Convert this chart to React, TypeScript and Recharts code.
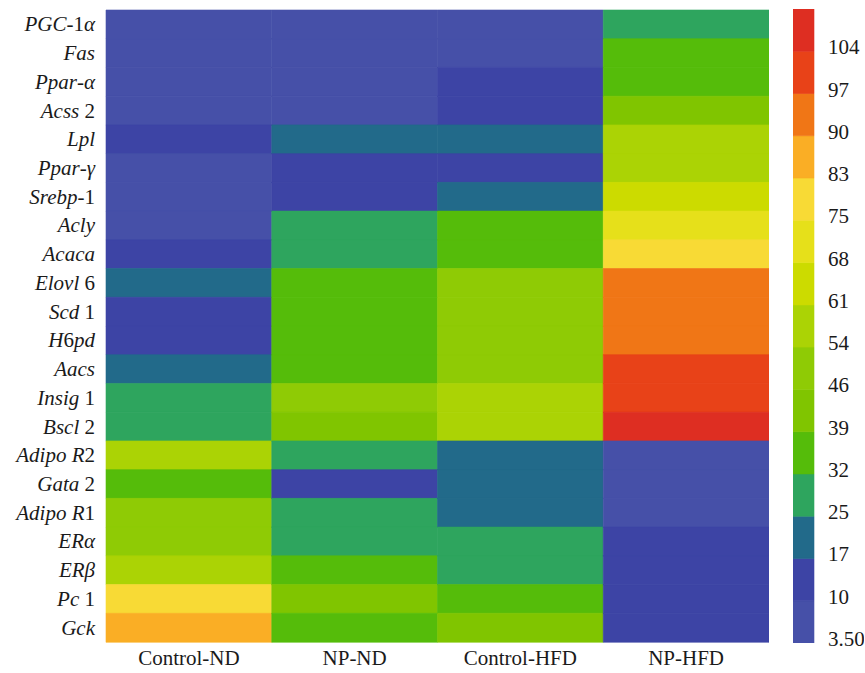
import React from 'react';
import { BarChart, Bar, Cell, XAxis, YAxis } from 'recharts';

const genes = [
  'PGC-1α', 'Fas', 'Ppar-α', 'Acss 2', 'Lpl', 'Ppar-γ', 'Srebp-1', 'Acly', 'Acaca', 'Elovl 6', 'Scd 1',
  'H6pd', 'Aacs', 'Insig 1', 'Bscl 2', 'Adipo R2', 'Gata 2', 'Adipo R1', 'ERα', 'ERβ', 'Pc 1', 'Gck',
];

const groups = ['Control-ND', 'NP-ND', 'Control-HFD', 'NP-HFD'];

const controlND = [6.8, 7.2, 6.5, 7.0, 13.9, 6.9, 7.4, 7.1, 14.6, 21.2, 13.8, 14.1, 20.7, 28.3, 28.9, 57.6, 35.2, 50.4, 49.7, 57.1, 78.6, 86.3];
const npND = [6.6, 7.0, 7.3, 6.9, 21.5, 14.2, 13.7, 28.4, 29.1, 35.6, 36.0, 35.3, 35.9, 50.2, 43.1, 28.7, 14.0, 28.2, 28.9, 35.5, 42.6, 36.2];
const controlHFD = [7.1, 6.7, 14.4, 13.9, 21.0, 14.5, 21.3, 35.7, 36.1, 50.0, 49.6, 50.5, 49.9, 57.5, 56.9, 21.6, 21.2, 20.8, 28.5, 29.0, 35.4, 43.0];
const npHFD = [28.8, 35.9, 36.3, 43.2, 57.3, 56.8, 64.5, 71.5, 78.9, 93.2, 92.8, 93.5, 100.4, 99.9, 107.6, 6.8, 7.0, 7.2, 14.3, 14.0, 13.8, 14.2];

// colour scale: bin edges, bin colours, and the labels on the bar
const colorSteps = [3.5, 10.67, 17.83, 25, 32.17, 39.33, 46.5, 53.67, 60.83, 68, 75.17, 82.33, 89.5, 96.67, 103.83, 111];
const stepColors = [
  '#4650a8', '#3d44a5', '#226a8a', '#2ea55e', '#55bc0a', '#80c500', '#8fcb05',
  '#abd305', '#ccdb00', '#e6e01a', '#f8da35', '#faae25', '#f07616', '#e84218', '#de2e22',
];
const colorLabels = ['3.50', '10', '17', '25', '32', '39', '46', '54', '61', '68', '75', '83', '90', '97', '104'];

const seriesValues = [controlND, npND, controlHFD, npHFD];

const rows = genes.map((gene, i) => {
  const row: Record<string, any> = { gene };
  groups.forEach((g, j) => (row[g] = seriesValues[j][i]));
  return row;
});

// colour bar: an invisible base up to the scale minimum, then one stacked segment per bin
const barRow: Record<string, any> = { name: 'scale', base: colorSteps[0] };
stepColors.forEach((_, i) => (barRow[`b${i}`] = colorSteps[i + 1] - colorSteps[i]));

function colorFor(v: number) {
  for (let i = 0; i < stepColors.length; i++) {
    if (v < colorSteps[i + 1]) return stepColors[i];
  }
  return stepColors[stepColors.length - 1];
}

const FONT = 'Liberation Serif';
const INK = '#1a1a1a';

// force the serif face even if some stylesheet sets a font on chart text
const serifRef = (el: SVGElement | null) => {
  if (el) el.style.setProperty('font-family', `'${FONT}', serif`, 'important');
};

function GeneTick({ x, y, payload }: any) {
  const parts = String(payload.value).split(/([0-9-]+)/).filter((p) => p !== '');
  return (
    <text ref={serifRef} x={x} y={y + 7} textAnchor="end" fontFamily={FONT} fontSize={21} fill={INK}>
      {parts.map((p, i) => (
        <tspan key={i} ref={serifRef} fontFamily={FONT} fontStyle={/^[0-9-]+$/.test(p) ? 'normal' : 'italic'}>{p}</tspan>
      ))}
    </text>
  );
}

function GroupTick({ x, y, payload }: any) {
  return (
    <text ref={serifRef} x={x} y={y + 17} textAnchor="middle" fontFamily={FONT} fontSize={21} fill={INK}>
      {groups[Math.floor(payload.value)]}
    </text>
  );
}

function ScaleTick({ x, y, payload }: any) {
  const idx = colorSteps.indexOf(payload.value);
  return (
    <text ref={serifRef} x={x} y={y + 3} textAnchor="start" fontFamily={FONT} fontSize={21} fill={INK}>
      {colorLabels[idx]}
    </text>
  );
}

export default function App() {
  return (
    <div style={{ position: 'absolute', left: 0, top: 0, width: 865, height: 673, background: '#fff' }}>
      <div style={{ position: 'absolute', left: 0, top: 0 }}>
        <BarChart
          width={769}
          height={673}
          data={rows}
          layout="vertical"
          margin={{ top: 10, right: 0, bottom: 0, left: 0 }}
          barCategoryGap={0}
        >
          <XAxis
            type="number"
            domain={[0, 4]}
            ticks={[0.5, 1.5, 2.5, 3.5]}
            axisLine={false}
            tickLine={false}
            height={31}
            tickMargin={0}
            interval={0}
            tick={<GroupTick />}
          />
          <YAxis
            type="category"
            dataKey="gene"
            width={106}
            axisLine={false}
            tickLine={false}
            tickMargin={5}
            interval={0}
            tick={<GeneTick />}
          />
          {groups.map((g) => (
            <Bar key={g} dataKey={() => 1} stackId="heat" isAnimationActive={false}>
              {rows.map((r, i) => (
                <Cell key={i} fill={colorFor(r[g])} stroke={colorFor(r[g])} strokeWidth={0.6} />
              ))}
            </Bar>
          ))}
        </BarChart>
      </div>
      <div style={{ position: 'absolute', left: 793, top: 0 }}>
        <BarChart
          width={71}
          height={673}
          data={[barRow]}
          margin={{ top: 9, right: 0, bottom: 30, left: 0 }}
          barCategoryGap={0}
        >
          <XAxis dataKey="name" hide />
          <YAxis
            orientation="right"
            type="number"
            domain={[3.5, 111]}
            allowDataOverflow
            ticks={colorSteps.slice(0, 15)}
            width={50}
            axisLine={false}
            tickLine={false}
            tickMargin={8}
            interval={0}
            tick={<ScaleTick />}
          />
          <Bar dataKey="base" stackId="scale" fill="none" isAnimationActive={false} />
          {stepColors.map((c, i) => (
            <Bar
              key={c}
              dataKey={`b${i}`}
              stackId="scale"
              fill={c}
              stroke={c}
              strokeWidth={0.6}
              isAnimationActive={false}
            />
          ))}
        </BarChart>
      </div>
    </div>
  );
}
